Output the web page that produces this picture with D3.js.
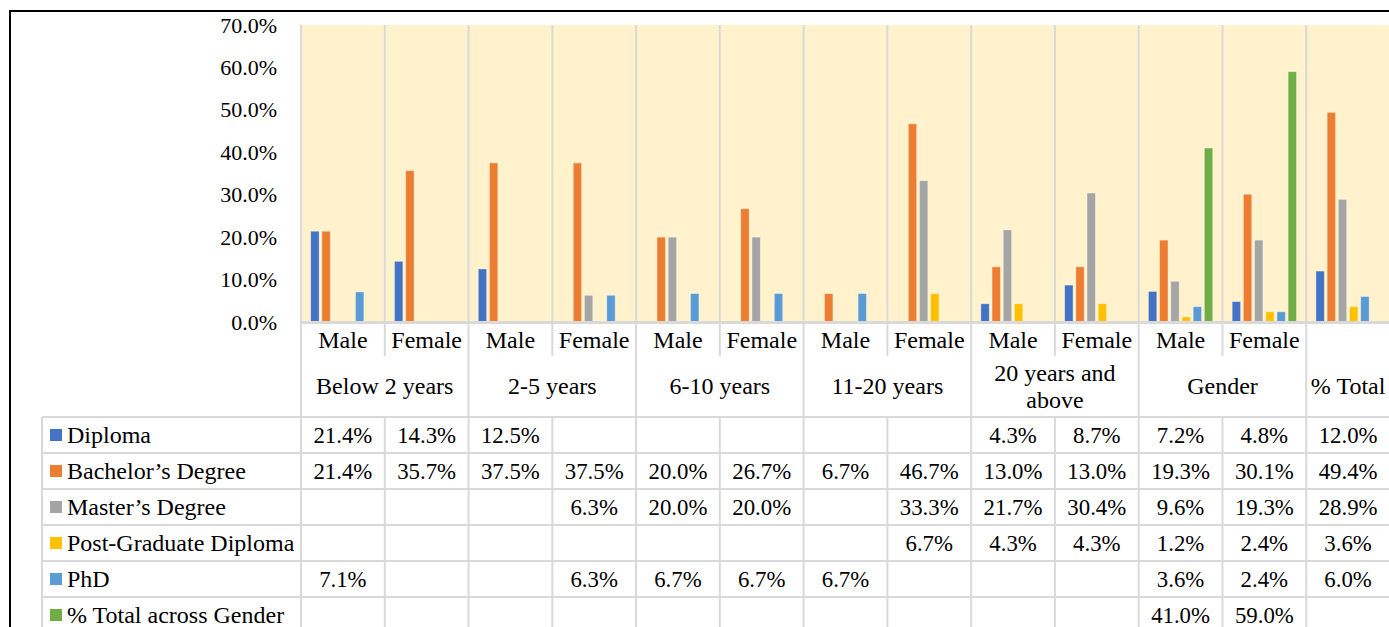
<!DOCTYPE html>
<html>
<head>
<meta charset="utf-8">
<script src="https://cdn.jsdelivr.net/npm/d3@7"></script>
<style>
  body { margin: 0; background: #fff; }
</style>
</head>
<body>
<svg id="chart"></svg>
<script>
// categorias del eje (sub-etiqueta y grupo)
const subLabels = ["Male", "Female", "Male", "Female", "Male", "Female", "Male", "Female", "Male", "Female", "Male", "Female", ""];
const groupOf = [0, 0, 1, 1, 2, 2, 3, 3, 4, 4, 5, 5, 6];
const groups = [["Below 2 years"], ["2-5 years"], ["6-10 years"], ["11-20 years"], ["20 years and", "above"], ["Gender"], ["% Total"]];

const seriesNames = ["Diploma", "Bachelor\u2019s Degree", "Master\u2019s Degree", "Post-Graduate Diploma", "PhD", "% Total across Gender"];
const seriesColors = ["#4472C4", "#ED7D31", "#A5A5A5", "#FFC000", "#5B9BD5", "#70AD47"];

const diploma = [21.4, 14.3, 12.5, null, null, null, null, null, 4.3, 8.7, 7.2, 4.8, 12.0];
const bachelor = [21.4, 35.7, 37.5, 37.5, 20.0, 26.7, 6.7, 46.7, 13.0, 13.0, 19.3, 30.1, 49.4];
const master = [null, null, null, 6.3, 20.0, 20.0, null, 33.3, 21.7, 30.4, 9.6, 19.3, 28.9];
const pgd = [null, null, null, null, null, null, null, 6.7, 4.3, 4.3, 1.2, 2.4, 3.6];
const phd = [7.1, null, null, 6.3, 6.7, 6.7, 6.7, null, null, null, 3.6, 2.4, 6.0];
const totalGender = [null, null, null, null, null, null, null, null, null, null, 41.0, 59.0, null];

const yTicks = [0, 10, 20, 30, 40, 50, 60, 70];

const allSeries = [diploma, bachelor, master, pgd, phd, totalGender];

const W = 1389, H = 627;
const plotLeft = 301, plotRight = 1390, plotTop = 25, plotBottom = 322;
const FONT = '"Liberation Serif", "Times New Roman", Tinos';
const gridColor = "#D9D9D9";

const svg = d3.select("#chart").attr("width", W).attr("height", H);

// texto con la fuente correcta
function txt(sel, size) {
    return sel.style("font-family", FONT).style("font-size", (size || 24) + "px").attr("fill", "#000");
}

const x = d3.scaleBand().domain(d3.range(subLabels.length)).range([plotLeft, plotRight]).padding(0);
const xInner = d3.scaleBand().domain(d3.range(allSeries.length))
    .range([x.bandwidth() * 0.116, x.bandwidth() * 0.884]).paddingInner(0.25);
const y = d3.scaleLinear().domain([0, 70]).range([plotBottom, plotTop]);

// fondo del area de trazado
svg.append("rect")
    .attr("x", plotLeft).attr("y", plotTop)
    .attr("width", plotRight - plotLeft).attr("height", plotBottom - plotTop)
    .attr("fill", "#FFF2CC");

// lineas verticales entre categorias en el area de trazado
svg.append("g").selectAll("line")
    .data(d3.range(subLabels.length + 1))
    .enter().append("line")
    .attr("x1", i => i < subLabels.length ? x(i) : plotRight)
    .attr("x2", i => i < subLabels.length ? x(i) : plotRight)
    .attr("y1", plotTop).attr("y2", plotBottom)
    .style("stroke", gridColor).style("stroke-width", 2);

// barras
allSeries.forEach((vals, s) => {
    svg.append("g").selectAll("rect")
        .data(vals.map((v, i) => ({ v, i })).filter(d => d.v != null))
        .enter().append("rect")
        .attr("x", d => x(d.i) + xInner(s))
        .attr("width", xInner.bandwidth())
        .attr("y", d => y(d.v))
        .attr("height", d => plotBottom - y(d.v))
        .attr("fill", seriesColors[s])
        .style("stroke", "rgba(255,255,255,0.45)")
        .style("stroke-width", 0.8);
});

// eje Y (solo etiquetas)
const yAxis = svg.append("g")
    .attr("transform", `translate(277,0)`)
    .call(d3.axisLeft(y).tickValues(yTicks).tickSize(0).tickPadding(0).tickFormat(d => d.toFixed(1) + "%"));
yAxis.select(".domain").remove();
txt(yAxis.selectAll("text"), 22);

// tabla de datos
const tableLeft = 42;
const row1Bottom = 356, headBottom = 417, rowH = 36;
const nRows = allSeries.length;
const tableBottom = headBottom + rowH * nRows;

const grid = svg.append("g").style("stroke", gridColor).style("stroke-width", 2);

// linea inferior del area de trazado
grid.append("line")
    .attr("x1", plotLeft).attr("x2", plotRight)
    .attr("y1", plotBottom + 0.5).attr("y2", plotBottom + 0.5)
    .style("stroke-width", 3);

// horizontales de filas
grid.selectAll(".hrow")
    .data(d3.range(nRows + 1))
    .enter().append("line")
    .attr("x1", tableLeft).attr("x2", plotRight)
    .attr("y1", r => headBottom + r * rowH).attr("y2", r => headBottom + r * rowH);

// verticales: izquierda de la leyenda
grid.append("line")
    .attr("x1", tableLeft).attr("x2", tableLeft)
    .attr("y1", headBottom).attr("y2", tableBottom);

// verticales por categoria
grid.selectAll(".vcol")
    .data(d3.range(subLabels.length + 1))
    .enter().append("line")
    .attr("x1", i => i < subLabels.length ? x(i) : plotRight)
    .attr("x2", i => i < subLabels.length ? x(i) : plotRight)
    .attr("y1", plotBottom)
    .attr("y2", tableBottom)
    .each(function (i) {
        // entre Male y Female del mismo grupo solo en la fila de sub-etiquetas
        if (i > 0 && i < subLabels.length && groupOf[i] === groupOf[i - 1]) {
            d3.select(this).attr("y2", row1Bottom);
            grid.append("line")
                .attr("x1", x(i)).attr("x2", x(i))
                .attr("y1", headBottom).attr("y2", tableBottom);
        }
    });

// sub-etiquetas
txt(svg.append("g").selectAll("text")
    .data(subLabels)
    .enter().append("text")
    .attr("x", (d, i) => x(i) + x.bandwidth() / 2)
    .attr("y", 340)
    .attr("dy", "0.35em")
    .attr("text-anchor", "middle")
    .text(d => d));

// etiquetas de grupo
groups.forEach((lines, g) => {
    const idx = groupOf.map((v, i) => v === g ? i : -1).filter(i => i >= 0);
    const cx = (x(idx[0]) + x(idx[idx.length - 1]) + x.bandwidth()) / 2;
    const t = txt(svg.append("text").attr("x", cx).attr("text-anchor", "middle"));
    lines.forEach((ln, k) => {
        t.append("tspan")
            .attr("x", cx)
            .attr("y", 386 + (k - (lines.length - 1) / 2) * 27)
            .attr("dy", "0.35em")
            .text(ln);
    });
});

// filas de la tabla: leyenda y valores
allSeries.forEach((vals, s) => {
    const cy = headBottom + s * rowH + rowH / 2;
    svg.append("rect")
        .attr("x", 50).attr("y", cy - 6)
        .attr("width", 12).attr("height", 12)
        .attr("fill", seriesColors[s]);
    txt(svg.append("text")
        .attr("x", 67).attr("y", cy)
        .attr("dy", "0.35em")
        .text(seriesNames[s]));
    txt(svg.append("g").selectAll("text")
        .data(vals.map((v, i) => ({ v, i })).filter(d => d.v != null))
        .enter().append("text")
        .attr("x", d => x(d.i) + x.bandwidth() / 2)
        .attr("y", cy)
        .attr("dy", "0.35em")
        .attr("text-anchor", "middle")
        .text(d => d.v.toFixed(1) + "%"), 22.8);
});

// borde exterior
svg.append("rect")
    .attr("x", 10).attr("y", 11)
    .attr("width", W + 20).attr("height", H + 20)
    .attr("fill", "none")
    .style("stroke", "#000")
    .style("stroke-width", 2);
</script>
</body>
</html>
